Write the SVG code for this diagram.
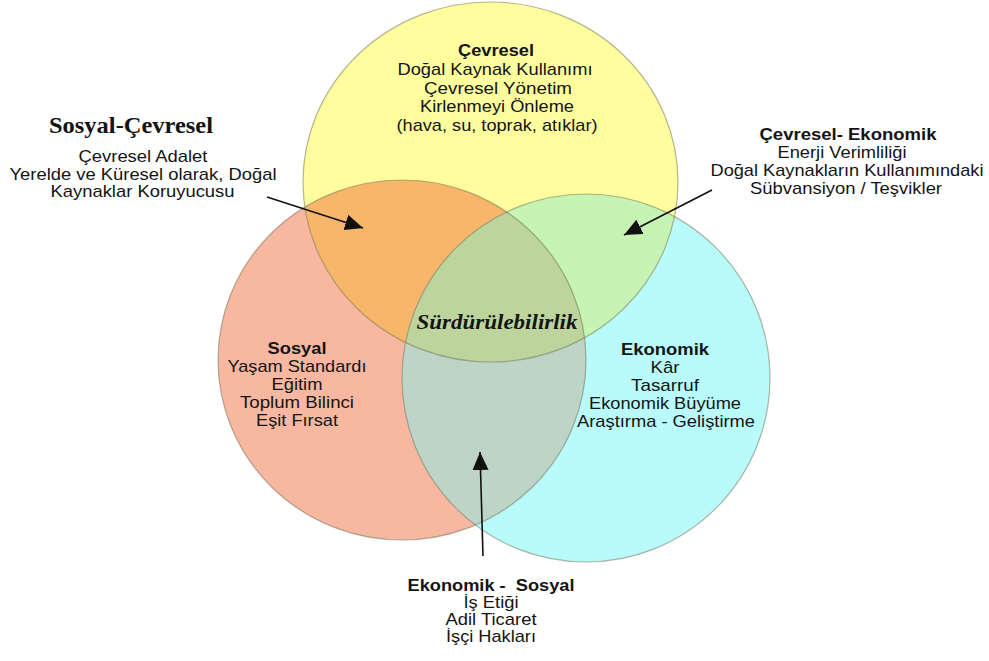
<svg xmlns="http://www.w3.org/2000/svg" width="989" height="661" viewBox="0 0 989 661">
<style>
.t{font-family:"Liberation Sans",Arial,sans-serif;font-size:16.2px;fill:#141414;text-anchor:middle}
.b{font-weight:bold}
.serif{font-family:"Liberation Serif","Times New Roman",serif;font-weight:bold;fill:#141414;text-anchor:middle}
.ol{fill:none;stroke:#6e6e50;stroke-opacity:0.5;stroke-width:1.2}
.arrow{fill:none;stroke:#111;stroke-width:1.6;marker-end:url(#ah)}
</style>
<defs>
<marker id="ah" markerUnits="userSpaceOnUse" markerWidth="20" markerHeight="16" refX="18" refY="8" orient="auto" viewBox="0 0 20 16">
<path d="M0,0 L18,8 L0,16 z" fill="#111"/>
</marker>
<ellipse id="eY" cx="490.5" cy="182" rx="187.5" ry="180"/>
<ellipse id="eP" cx="402" cy="360" rx="184" ry="180"/>
<ellipse id="eC" cx="586" cy="378" rx="184" ry="184"/>
<clipPath id="cpP"><use href="#eP"/></clipPath>
<clipPath id="cpC"><use href="#eC"/></clipPath>
</defs>
<rect width="989" height="661" fill="#ffffff"/>
<g id="fills">
<use href="#eP" fill="#F8B7A0"/>
<use href="#eC" fill="#B9FBFB"/>
<use href="#eY" fill="#FEFE9F"/>
<use href="#eY" fill="#F7B66A" clip-path="url(#cpP)"/>
<use href="#eY" fill="#C6F5B3" clip-path="url(#cpC)"/>
<g clip-path="url(#cpC)"><use href="#eP" fill="#BDD4C6"/></g>
<g clip-path="url(#cpC)"><use href="#eY" fill="#BDD49D" clip-path="url(#cpP)"/></g>
</g>
<g id="outlines">
<use href="#eP" class="ol"/>
<use href="#eC" class="ol"/>
<use href="#eY" class="ol"/>
</g>
<g id="connectors">
<line class="arrow" x1="267" y1="197" x2="363" y2="228"/>
<line class="arrow" x1="712" y1="190" x2="624" y2="235"/>
<line class="arrow" x1="483" y1="556" x2="480" y2="452"/>
</g>
<g id="node-cevresel">
<text class="t b" x="496" y="56" textLength="76" lengthAdjust="spacingAndGlyphs">Çevresel</text>
<text class="t" x="495" y="75" textLength="195" lengthAdjust="spacingAndGlyphs">Doğal Kaynak Kullanımı</text>
<text class="t" x="498" y="93.5" textLength="148" lengthAdjust="spacingAndGlyphs">Çevresel Yönetim</text>
<text class="t" x="497" y="112" textLength="154" lengthAdjust="spacingAndGlyphs">Kirlenmeyi Önleme</text>
<text class="t" x="497" y="130.5" textLength="201" lengthAdjust="spacingAndGlyphs">(hava, su, toprak, atıklar)</text>
</g>
<g id="node-sosyal-cevresel">
<text class="serif" x="131" y="133" font-size="23" textLength="164" lengthAdjust="spacingAndGlyphs">Sosyal-Çevresel</text>
<text class="t" x="143" y="162" textLength="129" lengthAdjust="spacingAndGlyphs">Çevresel Adalet</text>
<text class="t" x="143" y="180" textLength="267" lengthAdjust="spacingAndGlyphs">Yerelde ve Küresel olarak, Doğal</text>
<text class="t" x="142.5" y="197" textLength="184" lengthAdjust="spacingAndGlyphs">Kaynaklar Koruyucusu</text>
</g>
<g id="node-cevresel-ekonomik">
<text class="t b" x="848" y="140" textLength="177" lengthAdjust="spacingAndGlyphs">Çevresel- Ekonomik</text>
<text class="t" x="842" y="158" textLength="129" lengthAdjust="spacingAndGlyphs">Enerji Verimliliği</text>
<text class="t" x="847" y="176" textLength="273" lengthAdjust="spacingAndGlyphs">Doğal Kaynakların Kullanımındaki</text>
<text class="t" x="846" y="194" textLength="192" lengthAdjust="spacingAndGlyphs">Sübvansiyon / Teşvikler</text>
</g>
<g id="node-surdurulebilirlik">
<text class="serif" x="497" y="329" font-size="21" font-style="italic" textLength="161" lengthAdjust="spacingAndGlyphs">Sürdürülebilirlik</text>
</g>
<g id="node-sosyal">
<text class="t b" x="297" y="354" textLength="59" lengthAdjust="spacingAndGlyphs">Sosyal</text>
<text class="t" x="297" y="372" textLength="139" lengthAdjust="spacingAndGlyphs">Yaşam Standardı</text>
<text class="t" x="297" y="390" textLength="51" lengthAdjust="spacingAndGlyphs">Eğitim</text>
<text class="t" x="297" y="408" textLength="114" lengthAdjust="spacingAndGlyphs">Toplum Bilinci</text>
<text class="t" x="297" y="426" textLength="82" lengthAdjust="spacingAndGlyphs">Eşit Fırsat</text>
</g>
<g id="node-ekonomik">
<text class="t b" x="665" y="355" textLength="88" lengthAdjust="spacingAndGlyphs">Ekonomik</text>
<text class="t" x="665" y="373" textLength="29" lengthAdjust="spacingAndGlyphs">Kâr</text>
<text class="t" x="665" y="391" textLength="68" lengthAdjust="spacingAndGlyphs">Tasarruf</text>
<text class="t" x="665" y="409" textLength="152" lengthAdjust="spacingAndGlyphs">Ekonomik Büyüme</text>
<text class="t" x="666" y="427" textLength="178" lengthAdjust="spacingAndGlyphs">Araştırma - Geliştirme</text>
</g>
<g id="node-ekonomik-sosyal">
<text class="t b" x="491" y="591" textLength="167" lengthAdjust="spacingAndGlyphs" xml:space="preserve">Ekonomik -  Sosyal</text>
<text class="t" x="491" y="608" textLength="55" lengthAdjust="spacingAndGlyphs">İş Etiği</text>
<text class="t" x="491" y="625" textLength="91" lengthAdjust="spacingAndGlyphs">Adil Ticaret</text>
<text class="t" x="491" y="642" textLength="90" lengthAdjust="spacingAndGlyphs">İşçi Hakları</text>
</g>
</svg>
